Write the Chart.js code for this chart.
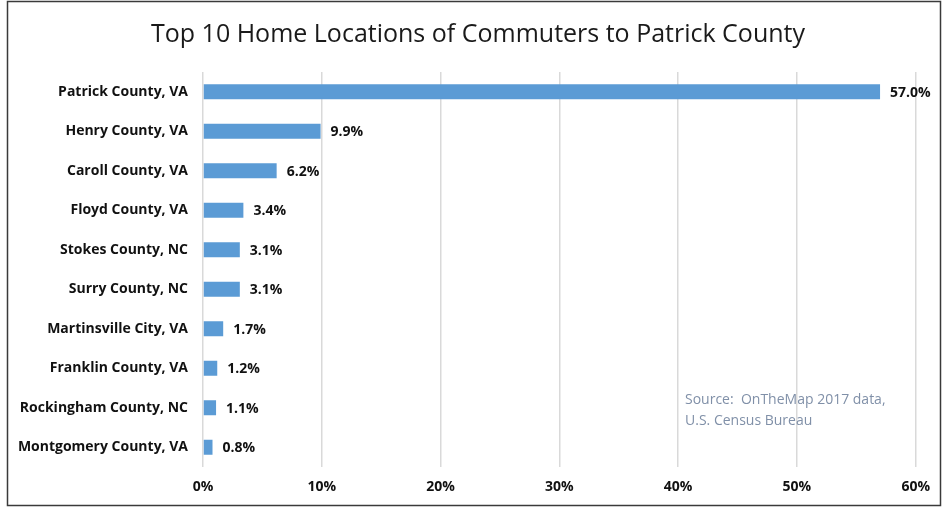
<!doctype html>
<html lang="en">
  <head>
    <meta charset="UTF-8" />
    <title>Top 10 Home Locations of Commuters to Patrick County</title>
    <script src="https://cdn.jsdelivr.net/npm/chart.js"></script>
    <style>
      body {
        margin: 0;
        background: #ffffff;
      }
      .chart-box {
        width: 942px;
        height: 508px;
      }
    </style>
  </head>
  <body>
    <div class="chart-box">
      <canvas id="commuteChart"></canvas>
    </div>
    <script>
      const locations = [
        "Patrick County, VA",
        "Henry County, VA",
        "Caroll County, VA",
        "Floyd County, VA",
        "Stokes County, NC",
        "Surry County, NC",
        "Martinsville City, VA",
        "Franklin County, VA",
        "Rockingham County, NC",
        "Montgomery County, VA"
      ];
      const shares = [57.0, 9.9, 6.2, 3.4, 3.1, 3.1, 1.7, 1.2, 1.1, 0.8];
      const xTicks = [0, 10, 20, 30, 40, 50, 60];
      const sourceLines = ["Source:  OnTheMap 2017 data,", "U.S. Census Bureau"];

      const FONT = "'Open Sans', Lato, sans-serif";

      // white page with the thin frame round the chart
      const frame = {
        id: "frame",
        afterLayout(chart) {
          // the left padding only shifts the title; let the long labels use it
          const y = chart.scales.y;
          y.left = 0;
          y.width = y.right;
        },
        beforeDraw(chart) {
          const c = chart.ctx;
          c.save();
          c.fillStyle = "#ffffff";
          c.fillRect(0, 0, chart.width, chart.height);
          c.strokeStyle = "#3a3a3a";
          c.lineWidth = 1.5;
          c.strokeRect(7.5, 1.5, chart.width - 9, chart.height - 4);
          c.restore();
        }
      };

      // percentage next to each bar, plus the source note
      const barLabels = {
        id: "barLabels",
        afterDatasetsDraw(chart) {
          const c = chart.ctx;
          const meta = chart.getDatasetMeta(0);
          c.save();
          c.font = "bold 14px " + FONT;
          c.fillStyle = "#111111";
          c.textAlign = "left";
          c.textBaseline = "middle";
          meta.data.forEach((bar, i) => {
            c.fillText(shares[i].toFixed(1) + "%", bar.x + 10, bar.y + 1);
          });
          c.font = "14px " + FONT;
          c.fillStyle = "#8090a8";
          sourceLines.forEach((line, i) => {
            c.fillText(line, 685, 400 + i * 21);
          });
          c.restore();
        }
      };

      const ctx = document.getElementById("commuteChart").getContext("2d");
      const commuteChart = new Chart(ctx, {
        type: "bar",
        data: {
          labels: locations,
          datasets: [
            {
              data: shares,
              backgroundColor: "#5b9bd5",
              barPercentage: 0.38,
              categoryPercentage: 1
            }
          ]
        },
        options: {
          indexAxis: "y",
          responsive: true,
          maintainAspectRatio: false,
          animation: false,
          layout: { padding: { left: 40, right: 26, top: 0, bottom: 0 } },
          plugins: {
            legend: { display: false },
            tooltip: { enabled: false },
            title: {
              display: true,
              text: "Top 10 Home Locations of Commuters to Patrick County",
              color: "#1a1a1a",
              font: { family: FONT, size: 25, weight: "normal" },
              padding: { top: 20, bottom: 22 }
            }
          },
          scales: {
            x: {
              min: 0,
              max: 60,
              afterBuildTicks(scale) {
                scale.ticks = xTicks.map((v) => ({ value: v }));
              },
              afterFit(scale) {
                scale.height = 41;
              },
              grid: { color: "#d9d9d9", lineWidth: 1.5, drawTicks: false },
              border: { display: false },
              ticks: {
                padding: 12,
                color: "#111111",
                font: { family: FONT, size: 14, weight: "bold" },
                callback: (v) => v + "%"
              }
            },
            y: {
              afterFit(scale) {
                scale.width = 163;
              },
              grid: { display: false, drawTicks: false },
              border: { display: false },
              ticks: {
                padding: 15,
                color: "#111111",
                font: { family: FONT, size: 14, weight: "bold" }
              }
            }
          }
        },
        plugins: [frame, barLabels]
      });
    </script>
  </body>
</html>
